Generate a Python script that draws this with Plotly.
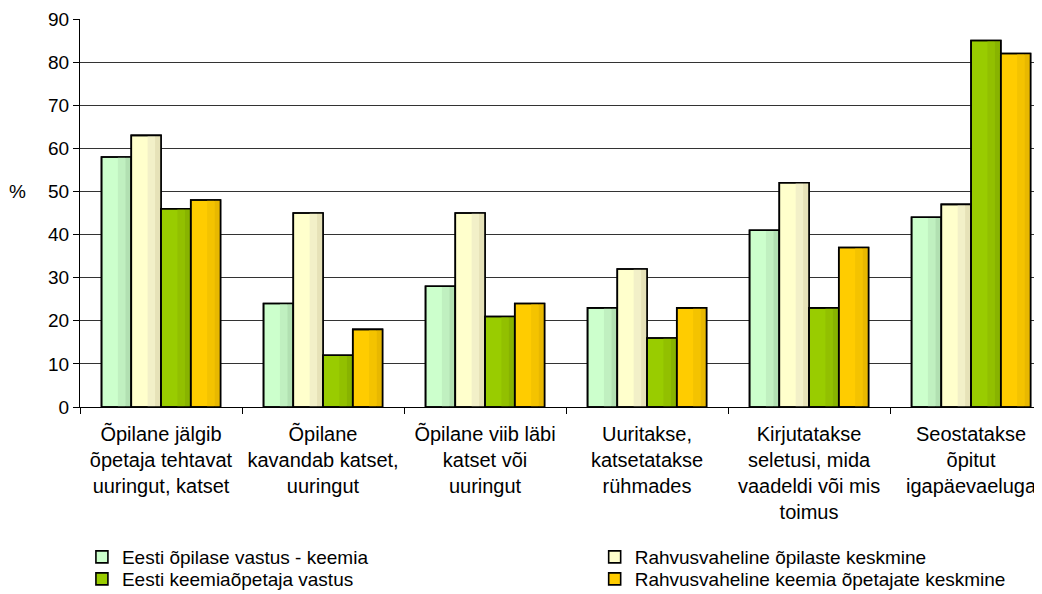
import plotly.graph_objects as go

categories = [
    "Õpilane jälgib<br>õpetaja tehtavat<br>uuringut, katset",
    "Õpilane<br>kavandab katset,<br>uuringut",
    "Õpilane viib läbi<br>katset või<br>uuringut",
    "Uuritakse,<br>katsetatakse<br>rühmades",
    "Kirjutatakse<br>seletusi, mida<br>vaadeldi või mis<br>toimus",
    "Seostatakse<br>õpitut<br>igapäevaeluga",
]
series_names = [
    "Eesti õpilase vastus - keemia",
    "Rahvusvaheline õpilaste keskmine",
    "Eesti keemiaõpetaja vastus",
    "Rahvusvaheline keemia õpetajate keskmine",
]
eesti_opilane = [58, 24, 28, 23, 41, 44]
rahvusvah_opilane = [63, 45, 45, 32, 52, 47]
eesti_opetaja = [46, 12, 21, 16, 23, 85]
rahvusvah_opetaja = [48, 18, 24, 23, 37, 82]
series_values = [eesti_opilane, rahvusvah_opilane, eesti_opetaja, rahvusvah_opetaja]
legend_ids = ["legend", "legend2", "legend3", "legend4"]

# base, mid stripe, dark stripe
palettes = [
    ("#CCFFCC", "#C0F0C0", "#B2E0B2"),
    ("#FFFFCC", "#F2F0C8", "#E6E2B8"),
    ("#99CC00", "#92C000", "#88B300"),
    ("#FFCC00", "#F4C300", "#E8B800"),
]

fig = go.Figure()
bw = 0.1836
start = -2 * bw
for i, (name, vals, pal) in enumerate(zip(series_names, series_values, palettes)):
    off = start + i * bw
    fig.add_trace(go.Bar(
        x=categories, y=vals, name=name, width=bw, offset=off,
        marker=dict(color=pal[0], line=dict(color="#000000", width=1.6)),
        showlegend=True, legend=legend_ids[i], hoverinfo="skip"))
    fig.add_trace(go.Bar(
        x=categories, y=vals, width=bw * 0.25, offset=off + bw * 0.55,
        marker=dict(color=pal[1], line=dict(width=0)),
        showlegend=False, hoverinfo="skip"))
    fig.add_trace(go.Bar(
        x=categories, y=vals, width=bw * 0.2, offset=off + bw * 0.8,
        marker=dict(color=pal[2], line=dict(width=0)),
        showlegend=False, hoverinfo="skip"))
    fig.add_trace(go.Bar(
        x=categories, y=vals, width=bw, offset=off,
        marker=dict(color="rgba(0,0,0,0)", line=dict(color="#000000", width=1.6)),
        showlegend=False, hoverinfo="skip"))

font_family = "Liberation Sans, Arial, sans-serif"
legend_common = dict(
    orientation="v", xref="paper", yref="paper",
    xanchor="left", yanchor="top",
    font=dict(size=19), bgcolor="rgba(0,0,0,0)",
    itemclick=False, tracegroupgap=0,
)
# the page has an 8px body margin; figure placed so plot area sits at the reference position
fig.update_layout(
    width=1034, height=600,
    barmode="overlay",
    paper_bgcolor="white", plot_bgcolor="white",
    margin=dict(l=72, r=0, t=11, b=201),
    font=dict(family=font_family, size=19, color="#000000"),
    xaxis=dict(
        type="category", range=[-0.5, 5.438], automargin=False,
        showline=True, linecolor="#000000", linewidth=1,
        ticks="outside", tickson="boundaries", ticklen=6, tickcolor="#000000",
        ticklabelstandoff=9,
        showgrid=False, tickfont=dict(size=20),
    ),
    yaxis=dict(
        range=[0, 90], dtick=10, automargin=False,
        showline=True, linecolor="#000000", linewidth=1,
        ticks="outside", ticklen=6, tickcolor="#000000",
        showgrid=True, gridcolor="#333333", gridwidth=1,
        zeroline=False, tickfont=dict(size=19),
    ),
    legend=dict(x=0.002, y=-0.3376, **legend_common),
    legend2=dict(x=0.535, y=-0.3376, **legend_common),
    legend3=dict(x=0.002, y=-0.3943, **legend_common),
    legend4=dict(x=0.535, y=-0.3943, **legend_common),
    annotations=[dict(
        text="%", xref="paper", yref="y", x=-0.0645, y=50,
        showarrow=False, xanchor="center", yanchor="middle",
        font=dict(size=19))],
)

fig.write_html("out.html")
